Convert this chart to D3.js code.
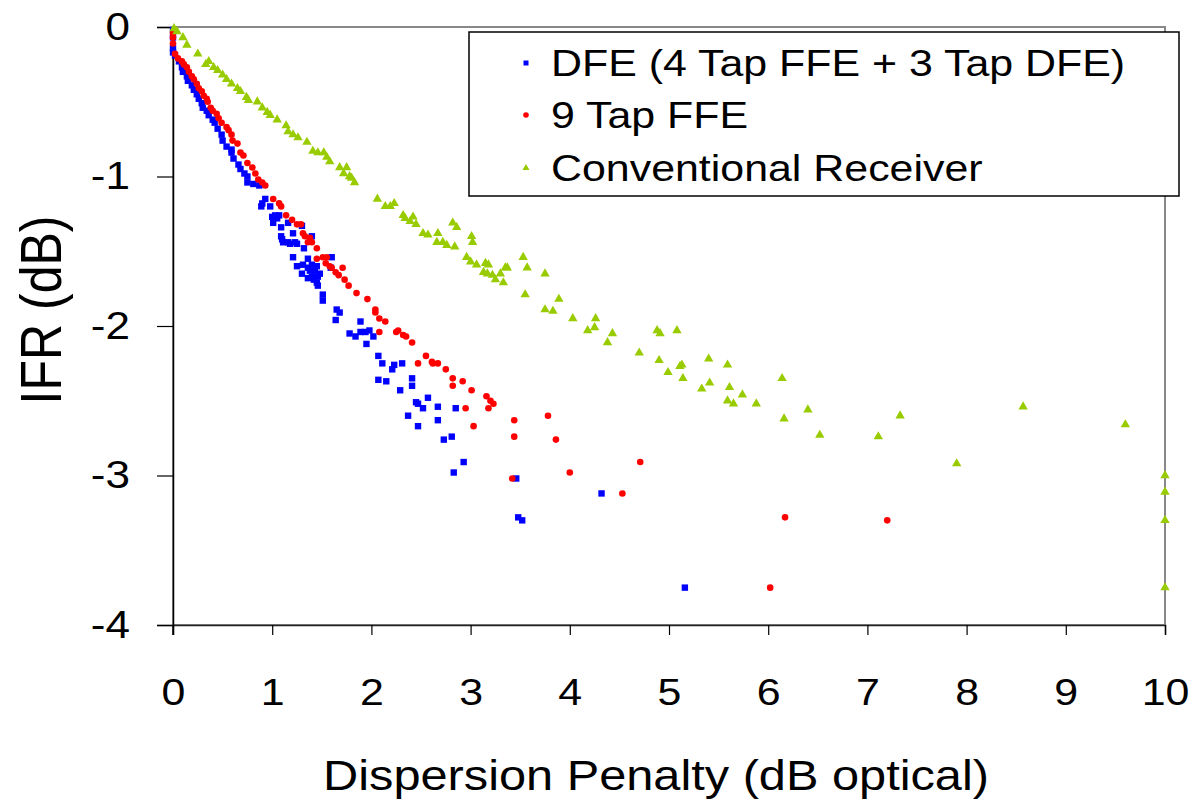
<!DOCTYPE html>
<html>
<head>
<meta charset="utf-8">
<script src="https://cdn.jsdelivr.net/npm/d3@7"></script>
<style>
  html, body { margin: 0; padding: 0; background: #fff; }
  svg { display: block; font-family: "Liberation Sans", Arial, sans-serif; }
</style>
</head>
<body>
<svg id="chart" width="1194" height="808"></svg>
<script>
// [dispersion penalty (dB optical), IFR (dB)]
const dfe = [
  [0, -0.02], [0, -0.07], [0, -0.14], [0, -0.17], [0.02, -0.19], [0.06, -0.23], [0.09, -0.27],
  [0.10, -0.30], [0.14, -0.33], [0.15, -0.36], [0.19, -0.39], [0.21, -0.42], [0.24, -0.45],
  [0.26, -0.48], [0.29, -0.51], [0.30, -0.54], [0.34, -0.56], [0.36, -0.59], [0.40, -0.62],
  [0.42, -0.64], [0.45, -0.68], [0.49, -0.72], [0.50, -0.76], [0.54, -0.80], [0.59, -0.82],
  [0.59, -0.84], [0.61, -0.88], [0.66, -0.92], [0.68, -0.95], [0.72, -0.98], [0.75, -1.00],
  [0.75, -1.04], [0.81, -1.05], [0.87, -1.06], [0.93, -1.15], [0.90, -1.18], [0.89, -1.20],
  [0.98, -1.20], [1.00, -1.27], [1.03, -1.26], [1.05, -1.28], [1.07, -1.26], [1.01, -1.31],
  [1.09, -1.34], [1.16, -1.31], [1.30, -1.33], [1.21, -1.38], [1.09, -1.40], [1.10, -1.42],
  [1.11, -1.44], [1.16, -1.44], [1.18, -1.45], [1.23, -1.44], [1.25, -1.45], [1.40, -1.40],
  [1.32, -1.48], [1.21, -1.54], [1.25, -1.60], [1.31, -1.59], [1.36, -1.55], [1.40, -1.59],
  [1.43, -1.63], [1.48, -1.65], [1.46, -1.67], [1.42, -1.69], [1.36, -1.68], [1.40, -1.67],
  [1.36, -1.61], [1.45, -1.60], [1.30, -1.65], [1.38, -1.63], [1.60, -1.54], [1.59, -1.61],
  [1.46, -1.73], [1.45, -1.71], [1.51, -1.79], [1.51, -1.83], [1.65, -1.89], [1.68, -1.91],
  [1.64, -1.96], [1.89, -1.97], [1.78, -2.05], [1.84, -2.07], [1.89, -2.04], [1.94, -2.04],
  [1.98, -2.03], [2.02, -2.07], [1.95, -2.12], [2.07, -2.20], [2.11, -2.25], [2.23, -2.26],
  [2.31, -2.25], [2.21, -2.29], [2.07, -2.36], [2.15, -2.37], [2.41, -2.35], [2.41, -2.40],
  [2.29, -2.43], [2.57, -2.48], [2.45, -2.51], [2.47, -2.52], [2.52, -2.55], [2.67, -2.54],
  [2.85, -2.55], [2.37, -2.60], [2.67, -2.63], [2.47, -2.67], [2.81, -2.74], [2.73, -2.76],
  [2.93, -2.91], [2.83, -2.98], [3.46, -3.02], [3.48, -3.28], [3.52, -3.30], [4.32, -3.12],
  [5.16, -3.75]
];

const ffe9 = [
  [0, -0.04], [0, -0.07], [0, -0.11], [0.02, -0.18], [0.05, -0.21], [0.09, -0.23], [0.11, -0.25],
  [0.14, -0.27], [0.16, -0.30], [0.19, -0.33], [0.21, -0.35], [0.24, -0.38], [0.26, -0.41],
  [0.29, -0.43], [0.31, -0.46], [0.34, -0.48], [0.35, -0.50], [0.38, -0.54], [0.40, -0.56],
  [0.44, -0.58], [0.46, -0.61], [0.49, -0.64], [0.54, -0.67], [0.56, -0.69], [0.59, -0.72],
  [0.60, -0.76], [0.65, -0.78], [0.68, -0.84], [0.71, -0.86], [0.75, -0.91], [0.80, -0.94],
  [0.83, -0.98], [0.86, -1.02], [0.90, -1.04], [0.93, -1.06], [1.01, -1.15], [1.07, -1.18],
  [1.09, -1.20], [1.14, -1.26], [1.20, -1.29], [1.25, -1.32], [1.29, -1.32], [1.31, -1.38],
  [1.33, -1.40], [1.38, -1.41], [1.36, -1.44], [1.40, -1.44], [1.45, -1.48], [1.51, -1.54],
  [1.55, -1.54], [1.45, -1.55], [1.54, -1.58], [1.58, -1.60], [1.60, -1.61], [1.64, -1.64],
  [1.67, -1.66], [1.71, -1.61], [1.73, -1.69], [1.77, -1.73], [1.85, -1.78], [1.96, -1.82],
  [2.04, -1.89], [2.04, -1.91], [2.08, -1.95], [2.14, -1.97], [2.08, -2.04], [2.25, -2.04],
  [2.27, -2.03], [2.32, -2.06], [2.35, -2.07], [2.41, -2.11], [2.55, -2.20], [2.61, -2.24],
  [2.62, -2.25], [2.67, -2.25], [2.47, -2.25], [2.75, -2.29], [2.82, -2.35], [2.92, -2.37],
  [2.82, -2.40], [3.01, -2.43], [3.16, -2.47], [3.20, -2.50], [3.23, -2.52], [3.18, -2.55],
  [2.95, -2.55], [3.03, -2.67], [3.44, -2.63], [3.44, -2.74], [3.78, -2.60], [3.86, -2.76],
  [4.00, -2.98], [3.42, -3.02], [4.71, -2.91], [4.53, -3.12], [6.17, -3.28], [7.20, -3.30],
  [6.02, -3.75]
];

const conventional = [
  [0.01, -0.01], [0.04, -0.03], [0.10, -0.07], [0.14, -0.12], [0.25, -0.18], [0.33, -0.25],
  [0.36, -0.23], [0.41, -0.27], [0.45, -0.29], [0.50, -0.32], [0.54, -0.35], [0.59, -0.38],
  [0.65, -0.41], [0.68, -0.43], [0.74, -0.47], [0.76, -0.49], [0.85, -0.50], [0.90, -0.54],
  [0.95, -0.57], [0.98, -0.59], [1.05, -0.62], [1.14, -0.66], [1.16, -0.70], [1.21, -0.72],
  [1.26, -0.74], [1.35, -0.77], [1.41, -0.83], [1.46, -0.84], [1.52, -0.84], [1.55, -0.87],
  [1.58, -0.90], [1.68, -0.94], [1.72, -0.98], [1.75, -0.94], [1.78, -1.00], [1.80, -1.01],
  [1.83, -1.04], [2.06, -1.15], [2.14, -1.20], [2.19, -1.20], [2.23, -1.18], [2.32, -1.26],
  [2.34, -1.28], [2.39, -1.30], [2.42, -1.27], [2.45, -1.32], [2.52, -1.38], [2.57, -1.39],
  [2.67, -1.38], [2.66, -1.44], [2.72, -1.44], [2.76, -1.46], [2.84, -1.47], [2.82, -1.31],
  [2.86, -1.34], [2.96, -1.54], [3.00, -1.57], [3.01, -1.40], [3.02, -1.44], [3.06, -1.59],
  [3.15, -1.58], [3.18, -1.59], [3.13, -1.64], [3.17, -1.65], [3.22, -1.66], [3.25, -1.69],
  [3.30, -1.65], [3.33, -1.71], [3.35, -1.61], [3.37, -1.61], [3.53, -1.54], [3.57, -1.61],
  [3.75, -1.65], [3.55, -1.79], [3.75, -1.89], [3.83, -1.90], [3.89, -1.82], [4.03, -1.95],
  [4.18, -2.03], [4.25, -2.01], [4.26, -1.95], [4.43, -2.05], [4.38, -2.11], [4.88, -2.03],
  [4.91, -2.05], [5.08, -2.03], [4.70, -2.18], [4.90, -2.23], [4.99, -2.31], [5.11, -2.27],
  [5.13, -2.26], [5.14, -2.35], [5.40, -2.22], [5.41, -2.38], [5.33, -2.42], [5.59, -2.26],
  [5.61, -2.41], [5.74, -2.46], [5.59, -2.50], [5.65, -2.52], [5.88, -2.52], [6.14, -2.35],
  [6.16, -2.62], [6.40, -2.56], [6.52, -2.73], [7.11, -2.74], [7.33, -2.60], [7.90, -2.92],
  [8.57, -2.54], [9.60, -2.66], [10, -3.00], [10, -3.11], [10, -3.30], [10, -3.75]
];

const seriesNames = ['DFE (4 Tap FFE + 3 Tap DFE)', '9 Tap FFE', 'Conventional Receiver'];
const xTicks = [0, 1, 2, 3, 4, 5, 6, 7, 8, 9, 10];
const yTicks = [0, -1, -2, -3, -4];

const margin = { top: 27, right: 29, bottom: 183, left: 173 };
const svg = d3.select('#chart');
const W = +svg.attr('width'), H = +svg.attr('height');
const width = W - margin.left - margin.right;
const height = H - margin.top - margin.bottom;
const stretch = 1.16 // the source text is a bit wider than Arial

const x = d3.scaleLinear().domain([0, 10]).range([0, width]);
const y = d3.scaleLinear().domain([-4, 0]).range([height, 0]);

const g = svg.append('g').attr('transform', `translate(${margin.left},${margin.top})`);

// plot area frame (grey, excel style)
g.append('rect')
  .attr('x', 0).attr('y', 0)
  .attr('width', width).attr('height', height)
  .attr('fill', 'none').attr('stroke', '#888').attr('stroke-width', 2);

const xAxis = g.append('g')
  .attr('transform', `translate(0,${height})`)
  .call(d3.axisBottom(x).tickValues(xTicks).tickSize(10).tickFormat(d3.format('d')));
xAxis.select('.domain').attr('stroke', '#222').attr('stroke-width', 1.5);
xAxis.selectAll('.tick line').attr('stroke', '#000').attr('stroke-width', 1.2);
xAxis.selectAll('text')
  .attr('y', 67).attr('dy', '0.35em')
  .attr('transform', `scale(${stretch},1)`)
  .attr('font-size', 37).attr('fill', '#000')
  .attr('font-family', '"Liberation Sans", Arial, sans-serif');

const yAxis = g.append('g')
  .call(d3.axisLeft(y).tickValues(yTicks).tickSize(16).tickPadding(27)
    .tickFormat((d) => (d === 0 ? '0' : '-' + Math.abs(d))));
yAxis.select('.domain').attr('stroke', '#000').attr('stroke-width', 1.5);
yAxis.selectAll('.tick line').attr('stroke', '#000').attr('stroke-width', 1.2);
yAxis.selectAll('text')
  .attr('x', -43 / stretch)
  .attr('transform', `scale(${stretch},1)`)
  .attr('font-size', 38).attr('fill', '#000')
  .attr('font-family', '"Liberation Sans", Arial, sans-serif');

// left axis runs a little below the bottom axis, like the x tick at 0
g.append('line')
  .attr('x1', 0).attr('x2', 0).attr('y1', height).attr('y2', height + 10)
  .attr('stroke', '#000').attr('stroke-width', 1.5);

// markers
const tri = d3.symbol().type(d3.symbolTriangle);

g.append('g').selectAll('rect')
  .data(dfe).join('rect')
  .attr('x', (d) => x(d[0]) - 3.2).attr('y', (d) => y(d[1]) - 3.2)
  .attr('width', 6.4).attr('height', 6.4)
  .attr('fill', '#0000ff');

g.append('g').selectAll('circle')
  .data(ffe9).join('circle')
  .attr('cx', (d) => x(d[0])).attr('cy', (d) => y(d[1]))
  .attr('r', 3.3)
  .attr('fill', '#ff0000');

g.append('g').selectAll('path')
  .data(conventional).join('path')
  .attr('transform', (d) => `translate(${x(d[0])},${y(d[1])})`)
  .attr('d', tri.size(38))
  .attr('fill', '#99cc00');

// legend
const legend = svg.append('g').attr('transform', 'translate(469,32)');
legend.append('rect')
  .attr('width', 710).attr('height', 164)
  .attr('fill', '#fff').attr('stroke', '#000').attr('stroke-width', 1.5);

const rowY = [31, 83, 136];
legend.append('rect').attr('x', 54.5).attr('y', rowY[0] - 2.5).attr('width', 5).attr('height', 5).attr('fill', '#0000ff');
legend.append('circle').attr('cx', 57).attr('cy', rowY[1]).attr('r', 2.8).attr('fill', '#ff0000');
legend.append('path').attr('transform', `translate(57,${rowY[2]})`).attr('d', tri.size(22)).attr('fill', '#99cc00');

legend.selectAll('text.lbl')
  .data(seriesNames).join('text')
  .attr('class', 'lbl')
  .attr('transform', (d, i) => `translate(82,${rowY[i]}) scale(${stretch},1)`)
  .attr('dy', '0.35em')
  .attr('font-size', 37).attr('fill', '#000')
  .text((d) => d);

// axis titles
svg.append('text')
  .attr('transform', `translate(${margin.left + width / 2 - 13},775) scale(${stretch},1)`)
  .attr('dy', '0.35em')
  .attr('text-anchor', 'middle').attr('font-size', 42).attr('fill', '#000')
  .text('Dispersion Penalty (dB optical)');

svg.append('text')
  .attr('transform', `translate(41,310) scale(${stretch},1) rotate(-90)`)
  .attr('dy', '0.35em')
  .attr('text-anchor', 'middle').attr('font-size', 50).attr('fill', '#000')
  .text('IFR (dB)');
</script>
</body>
</html>
